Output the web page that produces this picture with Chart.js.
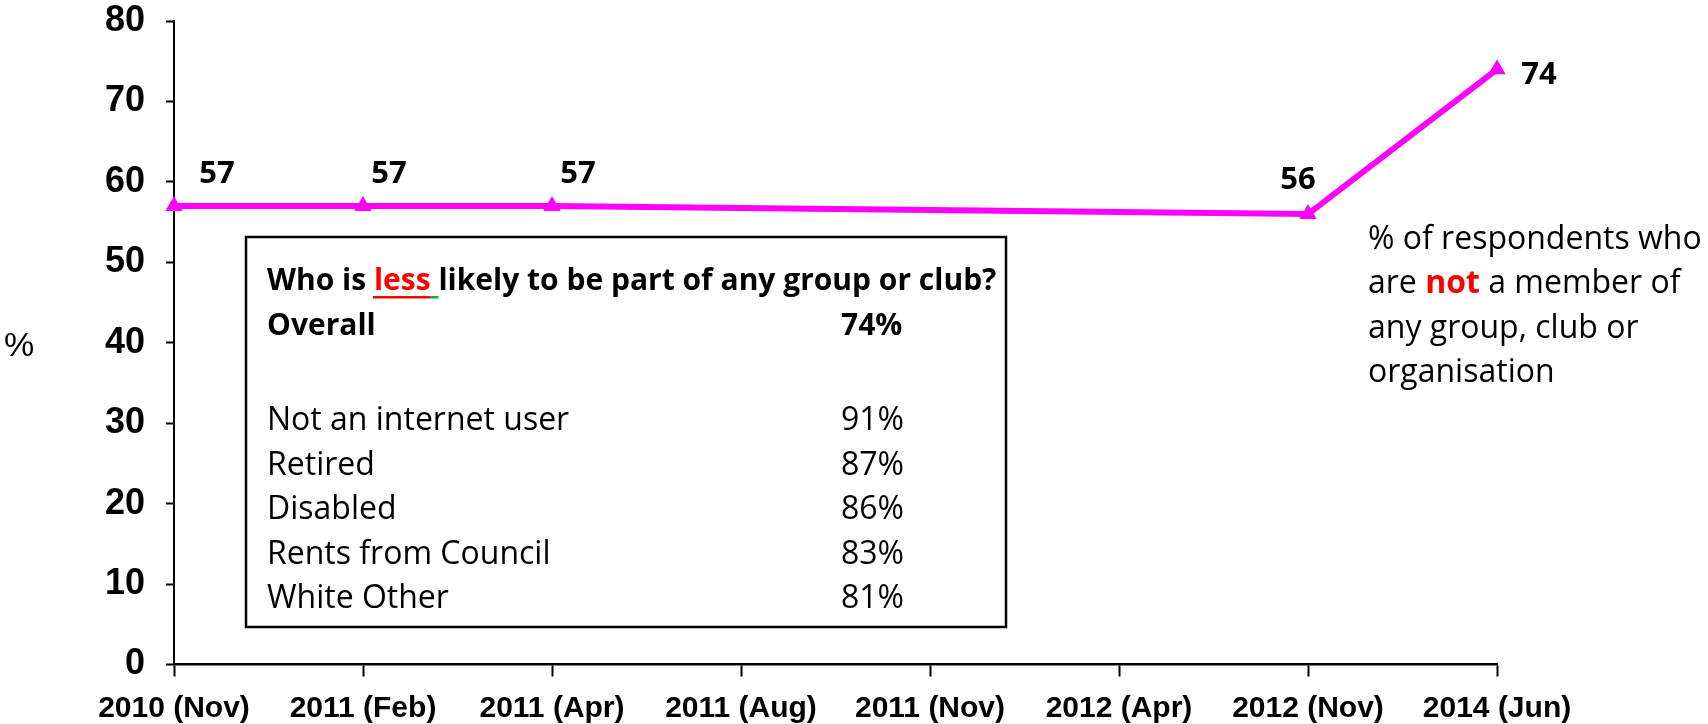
<!DOCTYPE html>
<html>
<head>
<meta charset="utf-8">
<script src="https://cdn.jsdelivr.net/npm/chart.js@4.4.1/dist/chart.umd.min.js"></script>
<style>
html,body{margin:0;padding:0;background:#fff;}
#caixa{width:1708px;height:724px;position:relative;}
</style>
</head>
<body>
<div id="caixa"><canvas id="graficoMembros"></canvas></div>
<script>

// =============================
// DADOS
// =============================

const categorias = [
"2010 (Nov)","2011 (Feb)","2011 (Apr)","2011 (Aug)",
"2011 (Nov)","2012 (Apr)","2012 (Nov)","2014 (Jun)"
];

const valores = [57, 57, 57, null, null, null, 56, 74];

const eixoMin = 0;
const eixoMax = 80;
const eixoPasso = 10;

const tituloCaixa = ["Who is ", "less", " likely to be part of any group or club?"];
const overallTexto = "Overall";
const overallValor = "74%";

const grupos = ["Not an internet user","Retired","Disabled","Rents from Council","White Other"];
const gruposValor = ["91%","87%","86%","83%","81%"];

const notaLinhas = [
[["% of respondents who", false]],
[["are ", false], ["not", true], [" a member of", false]],
[["any group, club or", false]],
[["organisation", false]]
];

const fonteTexto = "'Open Sans', 'Noto Sans', sans-serif";
const fonteEixo = "'Liberation Sans', Arial, sans-serif";


// =============================
// PLUGINS
// =============================

// rotulos dos pontos
const rotulosPlugin = {
id: "rotulos",
afterDatasetsDraw(chart){
const ctx = chart.ctx;
const meta = chart.getDatasetMeta(0);
ctx.save();
ctx.font = "bold 31px " + fonteTexto;
ctx.fillStyle = "#000";
ctx.textAlign = "center";
ctx.textBaseline = "alphabetic";
meta.data.forEach((p,i)=>{
const v = valores[i];
if(v === null) return;
let dx = 26, dy = -34;
if(i === 0) dx = 43;
if(i === valores.length - 1){ dx = 42; dy = 4; }
if(i === valores.length - 2){ dx = -10; dy = -36; }
ctx.fillText(String(v), p.x + dx, p.y + dy + 11);
});
ctx.restore();
}
};

// caixa de texto e nota
const caixaPlugin = {
id: "caixa",
afterDraw(chart){
const ctx = chart.ctx;
ctx.save();

// "%" do eixo
ctx.font = "34px " + fonteEixo;
ctx.fillStyle = "#000";
ctx.textAlign = "left";
ctx.textBaseline = "alphabetic";
ctx.fillText("%", 4, 356);

// moldura
ctx.fillStyle = "#fff";
ctx.fillRect(246, 237, 760, 390);
ctx.strokeStyle = "#000";
ctx.lineWidth = 2.5;
ctx.strokeRect(246, 237, 760, 390);

const x0 = 267;
const xv = 841;
const passo = 44.6;

// titulo
ctx.font = "bold 30px " + fonteTexto;
let y = 290;
let x = x0;
tituloCaixa.forEach((parte,i)=>{
const w = ctx.measureText(parte).width;
ctx.fillStyle = i === 1 ? "#ff0000" : "#000";
ctx.fillText(parte, x, y);
if(i === 1){
const esp = ctx.measureText(" ").width;
ctx.fillStyle = "#ff0000";
ctx.fillRect(x - 1, y + 6, w + 1, 2.5);
ctx.fillStyle = "#00b050";
ctx.fillRect(x + w, y + 6, esp, 2.5);
}
x += w;
});

// overall
y = 335;
ctx.fillStyle = "#000";
ctx.fillText(overallTexto, x0, y);
ctx.fillText(overallValor, xv, y);

// grupos
ctx.font = "32px " + fonteTexto;
y = 430;
grupos.forEach((g,i)=>{
ctx.fillText(g, x0, y);
ctx.fillText(gruposValor[i], xv, y);
y += passo;
});

// nota da direita
let yn = 249;
notaLinhas.forEach(linha=>{
let xn = 1368;
linha.forEach(([txt,destaque])=>{
ctx.font = (destaque ? "bold " : "") + "32px " + fonteTexto;
ctx.fillStyle = destaque ? "#ff0000" : "#000";
ctx.fillText(txt, xn, yn);
xn += ctx.measureText(txt).width;
});
yn += 44.3;
});

ctx.restore();
}
};


// =============================
// GRAFICO
// =============================

const ctx = document.getElementById("graficoMembros").getContext("2d");

new Chart(ctx, {
type: "line",
data: {
labels: categorias,
datasets: [{
label: "% not a member",
data: valores,
borderColor: "#ff00ff",
backgroundColor: "#ff00ff",
borderWidth: 6,
pointStyle: "triangle",
pointRadius: 10,
pointBorderWidth: 0,
pointBackgroundColor: "#ff00ff",
spanGaps: true,
tension: 0,
clip: false
}]
},
options: {
responsive: true,
maintainAspectRatio: false,
animation: false,
layout: {
padding: { left: 0, top: 21, right: 211, bottom: 0 }
},
plugins: {
legend: { display: false },
tooltip: { enabled: false }
},
scales: {
x: {
offset: false,
afterFit(scale){
scale.height = 59.5;
scale.paddingLeft = 0;
scale.paddingRight = 0;
},
grid: {
drawOnChartArea: false,
drawTicks: true,
tickLength: 12,
tickColor: "#000",
tickWidth: 2
},
border: { display: true, color: "#000", width: 2.5 },
ticks: {
color: "#000",
font: { family: fonteEixo, weight: "bold", size: 30 },
padding: 14,
maxRotation: 0,
autoSkip: false
}
},
y: {
min: eixoMin,
max: eixoMax,
afterFit(scale){
scale.width = 174;
scale.paddingTop = 0;
scale.paddingBottom = 0;
},
grid: {
drawOnChartArea: false,
drawTicks: true,
tickLength: 8,
tickColor: "#000",
tickWidth: 2
},
border: { display: true, color: "#000", width: 2 },
ticks: {
stepSize: eixoPasso,
color: "#000",
font: { family: fonteEixo, weight: "bold", size: 36 },
padding: 21
}
}
}
},
plugins: [rotulosPlugin, caixaPlugin]
});

</script>
</body>
</html>
